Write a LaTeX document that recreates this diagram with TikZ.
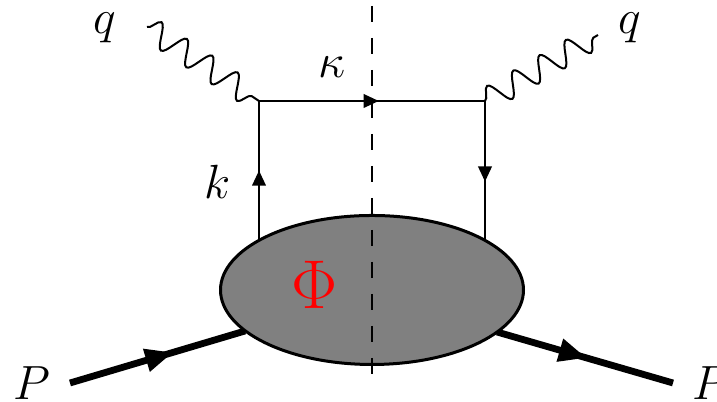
\documentclass[tikz,border=0pt]{standalone}
\usepackage{amsmath,amssymb}
\usepackage{xcolor}
\usetikzlibrary{arrows.meta,positioning,shapes.geometric,decorations.pathmorphing,decorations.markings}

\begin{document}
\begin{tikzpicture}[x=0.25pt, y=-0.25pt, every node/.style={font=\fontsize{12}{14}\selectfont,inner sep=0pt}, fermion/.style={line width=0.5pt}, photon/.style={line width=0.5pt,decorate,decoration={snake,amplitude=3pt,segment length=7.6pt}}, hadron/.style={line width=1.7pt}, midarr/.style={postaction={decorate,decoration={markings,mark=at position #1 with {\arrow{Triangle[length=3.8pt,width=3.4pt]}}}}}, bigarr/.style={postaction={decorate,decoration={markings,mark=at position #1 with {\arrow{Triangle[length=7pt,width=5.5pt]}}}}}, blob/.style={ellipse,draw,line width=0.75pt,fill=gray,minimum width=75.75pt,minimum height=37.25pt,inner sep=0pt}, cut/.style={line width=0.5pt,dash pattern=on 4pt off 4pt}]
\useasboundingbox (0,0) rectangle (717,402);
% vertices
\coordinate (v1) at (259,101);
\coordinate (v2) at (485,101);
\coordinate (qin) at (147,27);
\coordinate (qout) at (598,35);
\coordinate (a1) at (259,240);
\coordinate (a2) at (485,240);
\coordinate (pin) at (70,383);
\coordinate (pout) at (673,383);
\coordinate (b1) at (245,331);
\coordinate (b2) at (497,332);
% lines
\draw[photon] (qin) -- (v1);
\draw[photon] (v2) -- (qout);
\draw[fermion,midarr=0.5] (a1) -- (v1);
\draw[fermion,midarr=0.53] (v1) -- (v2);
\draw[fermion,midarr=0.58] (v2) -- (a2);
\draw[hadron,bigarr=0.59] (pin) -- (b1);
\draw[hadron,bigarr=0.51] (b2) -- (pout);
\node[blob] (phi) at (372,290) {};
\node[text=red,font=\fontsize{19}{22}\selectfont] (lab) at (315,285) {$\Phi$};
% cut
\coordinate (ctop) at (372,6);
\coordinate (cbot) at (372,386);
\draw[cut] (ctop) -- (cbot);
% labels
\node (q1) at (105,28) {$q$};
\node (q2) at (630,28) {$q$};
\node (kap) at (332,67) {$\kappa$};
\node (kk) at (218,182) {$k$};
\node (P1) at (32,383) {$P$};
\node (P2) at (711,383) {$P$};
\end{tikzpicture}
\end{document}
